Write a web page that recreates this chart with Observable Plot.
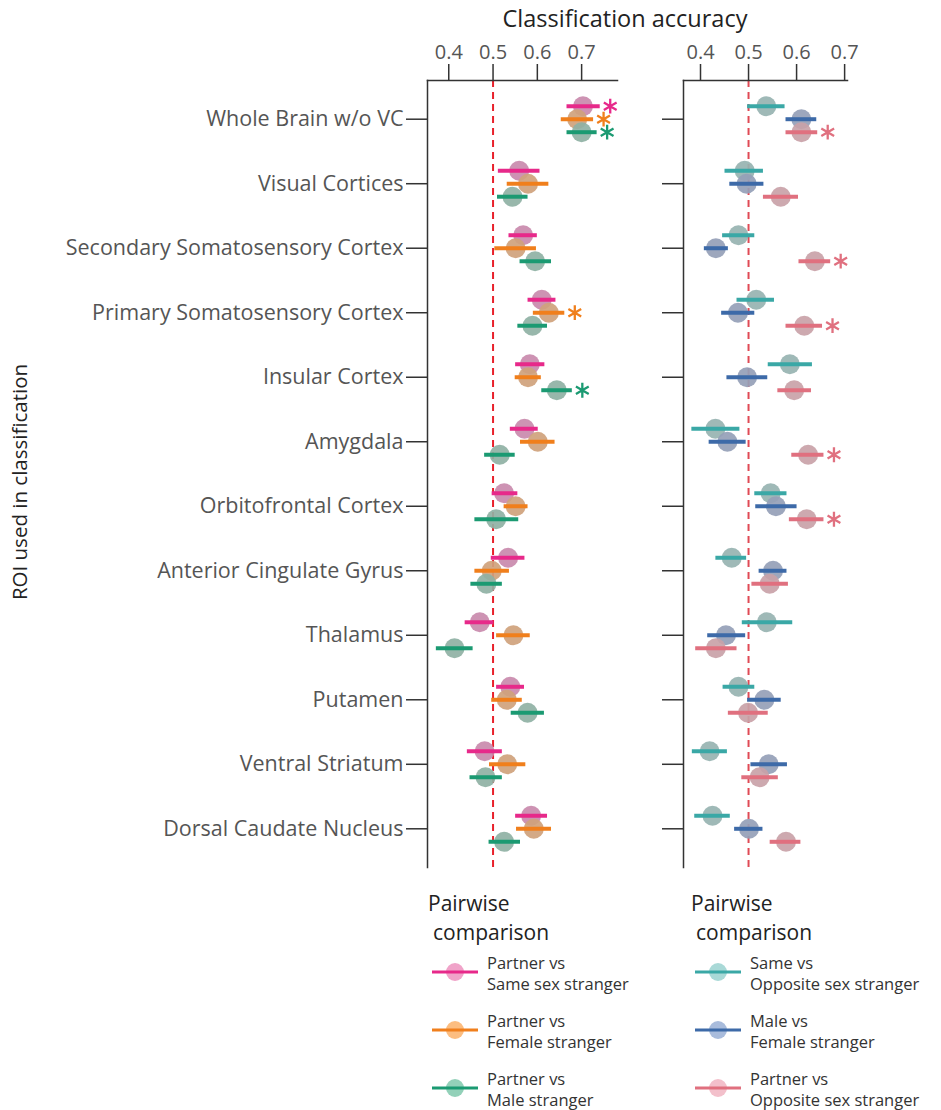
<!DOCTYPE html>
<html>
<head>
<meta charset="utf-8">
<script src="https://cdn.jsdelivr.net/npm/d3@7"></script>
<script src="https://cdn.jsdelivr.net/npm/@observablehq/plot@0.6"></script>
<style>
  body { margin: 0; background: #fff; font-family: "Open Sans", sans-serif; }
  #root { position: relative; width: 941px; height: 1110px; overflow: hidden; }
  .abs { position: absolute; white-space: nowrap; }
  .title { font-size: 23.5px; color: #222; line-height: 30px; }
  .ylab { font-size: 20.5px; color: #222; line-height: 26px; }
  .lhead { font-size: 21px; color: #222; line-height: 24px; }
  .ltext { font-size: 16.5px; color: #333; line-height: 18px; }
  svg.panel text { fill: #555; }
</style>
</head>
<body>
<div id="root"></div>
<script>
// ---------------- data ----------------
const rois = [
  "Whole Brain w/o VC",
  "Visual Cortices",
  "Secondary Somatosensory Cortex",
  "Primary Somatosensory Cortex",
  "Insular Cortex",
  "Amygdala",
  "Orbitofrontal Cortex",
  "Anterior Cingulate Gyrus",
  "Thalamus",
  "Putamen",
  "Ventral Striatum",
  "Dorsal Caudate Nucleus"
];
const xTicks = [0.4, 0.5, 0.6, 0.7];
const chance = 0.5;

// [accuracy, lower, upper] per ROI (same order as rois)
const partnerVsSame = [
  [0.703, 0.667, 0.742], [0.559, 0.512, 0.606], [0.568, 0.536, 0.600], [0.610, 0.579, 0.642],
  [0.583, 0.551, 0.617], [0.571, 0.539, 0.602], [0.525, 0.498, 0.556], [0.534, 0.496, 0.572],
  [0.470, 0.437, 0.502], [0.539, 0.508, 0.571], [0.481, 0.442, 0.521], [0.586, 0.551, 0.623]
];
const partnerVsFemale = [
  [0.690, 0.654, 0.727], [0.579, 0.532, 0.626], [0.551, 0.504, 0.598], [0.626, 0.591, 0.662],
  [0.579, 0.550, 0.609], [0.601, 0.562, 0.640], [0.551, 0.525, 0.579], [0.497, 0.459, 0.537],
  [0.546, 0.508, 0.584], [0.531, 0.497, 0.566], [0.532, 0.492, 0.574], [0.592, 0.553, 0.632]
];
const partnerVsMale = [
  [0.700, 0.667, 0.735], [0.544, 0.510, 0.579], [0.595, 0.561, 0.632], [0.589, 0.556, 0.623],
  [0.644, 0.610, 0.679], [0.515, 0.481, 0.550], [0.507, 0.459, 0.558], [0.485, 0.450, 0.521],
  [0.413, 0.372, 0.455], [0.578, 0.541, 0.616], [0.483, 0.448, 0.521], [0.525, 0.491, 0.562]
];
const sameVsOpposite = [
  [0.537, 0.498, 0.576], [0.492, 0.451, 0.531], [0.479, 0.446, 0.513], [0.516, 0.476, 0.554],
  [0.586, 0.541, 0.633], [0.431, 0.382, 0.482], [0.546, 0.513, 0.580], [0.465, 0.432, 0.496],
  [0.538, 0.487, 0.592], [0.479, 0.447, 0.513], [0.419, 0.383, 0.456], [0.425, 0.388, 0.462]
];
const maleVsFemale = [
  [0.610, 0.578, 0.642], [0.496, 0.461, 0.532], [0.432, 0.408, 0.458], [0.478, 0.444, 0.513],
  [0.497, 0.455, 0.540], [0.456, 0.418, 0.495], [0.557, 0.515, 0.601], [0.551, 0.522, 0.580],
  [0.453, 0.415, 0.494], [0.533, 0.498, 0.568], [0.542, 0.505, 0.581], [0.501, 0.471, 0.530]
];
const partnerVsOpposite = [
  [0.610, 0.578, 0.644], [0.567, 0.531, 0.604], [0.638, 0.605, 0.671], [0.616, 0.578, 0.654],
  [0.595, 0.561, 0.631], [0.624, 0.590, 0.657], [0.621, 0.585, 0.657], [0.544, 0.507, 0.583],
  [0.432, 0.390, 0.476], [0.499, 0.458, 0.541], [0.523, 0.486, 0.562], [0.578, 0.545, 0.609]
];

// significant ROIs (asterisks)
const sigPartnerVsSame = ["Whole Brain w/o VC"];
const sigPartnerVsFemale = ["Whole Brain w/o VC", "Primary Somatosensory Cortex"];
const sigPartnerVsMale = ["Whole Brain w/o VC", "Insular Cortex"];
const sigSameVsOpposite = [];
const sigMaleVsFemale = [];
const sigPartnerVsOpposite = ["Whole Brain w/o VC", "Secondary Somatosensory Cortex",
  "Primary Somatosensory Cortex", "Amygdala", "Orbitofrontal Cortex"];

// legend labels (two lines each)
const leftLabels = [["Partner vs", "Same sex stranger"], ["Partner vs", "Female stranger"], ["Partner vs", "Male stranger"]];
const rightLabels = [["Same vs", "Opposite sex stranger"], ["Male vs", "Female stranger"], ["Partner vs", "Opposite sex stranger"]];
const legendTitle = ["Pairwise", "comparison"];

// ---------------- styles ----------------
const leftStyle = [
  { line: "#e7298a", dot: "#c98aad", legendDot: "#f0a3c9" },
  { line: "#f07f1c", dot: "#cfa27c", legendDot: "#fcbd80" },
  { line: "#1b9a72", dot: "#8fb1a4", legendDot: "#93d1b9" }
];
const rightStyle = [
  { line: "#3aa8a6", dot: "#97b3b1", legendDot: "#a9d9d7" },
  { line: "#3d6aa8", dot: "#959fb7", legendDot: "#a9bcdc" },
  { line: "#e0707f", dot: "#c9a2a8", legendDot: "#f3c0cb" }
];
const offsets = [-13, 0, 13];

function toRows(values, sig) {
  return values.map(([acc, lo, hi], i) => ({ roi: rois[i], acc, lo, hi, sig: sig.includes(rois[i]) }));
}

function panel({ series, width, marginLeft, marginRight, domain, showLabels, chanceColor }) {
  const marks = [
    Plot.ruleX([chance], { stroke: chanceColor, strokeWidth: 2, strokeDasharray: "7,5" })
  ];
  series.forEach((s, k) => {
    const rows = toRows(s.values, s.sig);
    const dy = offsets[k];
    marks.push(Plot.dot(rows, { x: "acc", y: "roi", dy, r: 10, fill: s.style.dot, fillOpacity: 0.92 }));
    marks.push(Plot.ruleY(rows, { x1: "lo", x2: "hi", y: "roi", dy, stroke: s.style.line, strokeWidth: 4 }));
    marks.push(Plot.dot(rows.filter(d => d.sig), { x: "hi", y: "roi", dy, dx: 10, symbol: "asterisk", r: 7, stroke: s.style.line, strokeWidth: 2.3 }));
  });
  marks.push(Plot.frame({ anchor: "top", stroke: "#333", strokeWidth: 1.5 }));
  marks.push(Plot.frame({ anchor: "left", stroke: "#333", strokeWidth: 1.5 }));
  marks.push(Plot.axisX({ anchor: "top", ticks: xTicks, tickFormat: ".1f", tickSize: 17, tickPadding: 5, fontSize: 20, label: null, stroke: "#333", strokeWidth: 1.5 }));
  marks.push(Plot.axisY({ anchor: "left", tickSize: 21, tickPadding: 3, fontSize: 21.5, label: null, stroke: "#333", strokeWidth: 1.5,
    tickFormat: showLabels ? (d => d) : (() => "") }));
  const svg = Plot.plot({
    width, height: 880,
    marginTop: 80, marginBottom: 13, marginLeft, marginRight,
    x: { domain },
    y: { type: "point", domain: rois, padding: 0.6, round: false },
    style: { fontFamily: "Open Sans, sans-serif", background: "transparent", overflow: "visible" },
    marks
  });
  svg.classList.add("panel");
  return svg;
}

const root = document.getElementById("root");

const left = panel({
  series: [
    { values: partnerVsSame, sig: sigPartnerVsSame, style: leftStyle[0] },
    { values: partnerVsFemale, sig: sigPartnerVsFemale, style: leftStyle[1] },
    { values: partnerVsMale, sig: sigPartnerVsMale, style: leftStyle[2] }
  ],
  width: 655, marginLeft: 427, marginRight: 38, domain: [0.352, 0.781], showLabels: true, chanceColor: "#e8212b"
});
left.style.position = "absolute"; left.style.left = "0px"; left.style.top = "0px";
root.appendChild(left);

const right = panel({
  series: [
    { values: sameVsOpposite, sig: sigSameVsOpposite, style: rightStyle[0] },
    { values: maleVsFemale, sig: sigMaleVsFemale, style: rightStyle[1] },
    { values: partnerVsOpposite, sig: sigPartnerVsOpposite, style: rightStyle[2] }
  ],
  width: 286, marginLeft: 28, marginRight: 94, domain: [0.3646, 0.706], showLabels: false, chanceColor: "#e04a55"
});
right.style.position = "absolute"; right.style.left = "655px"; right.style.top = "0px";
root.appendChild(right);

// title and y label
const title = document.createElement("div");
title.className = "abs title";
title.textContent = "Classification accuracy";
title.style.left = "625px"; title.style.top = "3px"; title.style.transform = "translateX(-50%)";
root.appendChild(title);

const ylab = document.createElement("div");
ylab.className = "abs ylab";
ylab.textContent = "ROI used in classification";
ylab.style.left = "19px"; ylab.style.top = "482px";
ylab.style.transform = "translate(-50%, -50%) rotate(-90deg)";
root.appendChild(ylab);

// legends
function addText(cls, text, x, top) {
  const d = document.createElement("div");
  d.className = "abs " + cls;
  d.textContent = text;
  d.style.left = x + "px"; d.style.top = top + "px";
  root.appendChild(d);
}
function legend(x, labels, styles) {
  addText("lhead", legendTitle[0], x, 891);
  addText("lhead", legendTitle[1], x + 5, 920);
  labels.forEach((lab, i) => {
    const cy = 972 + i * 58;
    const ns = "http://www.w3.org/2000/svg";
    const sw = document.createElementNS(ns, "svg");
    sw.setAttribute("width", 50); sw.setAttribute("height", 24);
    sw.style.position = "absolute"; sw.style.left = (x + 4) + "px"; sw.style.top = (cy - 12) + "px";
    const c = document.createElementNS(ns, "circle");
    c.setAttribute("cx", 23); c.setAttribute("cy", 12); c.setAttribute("r", 9); c.setAttribute("fill", styles[i].legendDot);
    const l = document.createElementNS(ns, "line");
    l.setAttribute("x1", 0); l.setAttribute("x2", 46); l.setAttribute("y1", 12); l.setAttribute("y2", 12);
    l.setAttribute("stroke", styles[i].line); l.setAttribute("stroke-width", 3);
    sw.appendChild(c); sw.appendChild(l);
    root.appendChild(sw);
    addText("ltext", lab[0], x + 59, cy - 18);
    addText("ltext", lab[1], x + 59, cy + 3);
  });
}
legend(428, leftLabels, leftStyle);
legend(691, rightLabels, rightStyle);
</script>
</body>
</html>
